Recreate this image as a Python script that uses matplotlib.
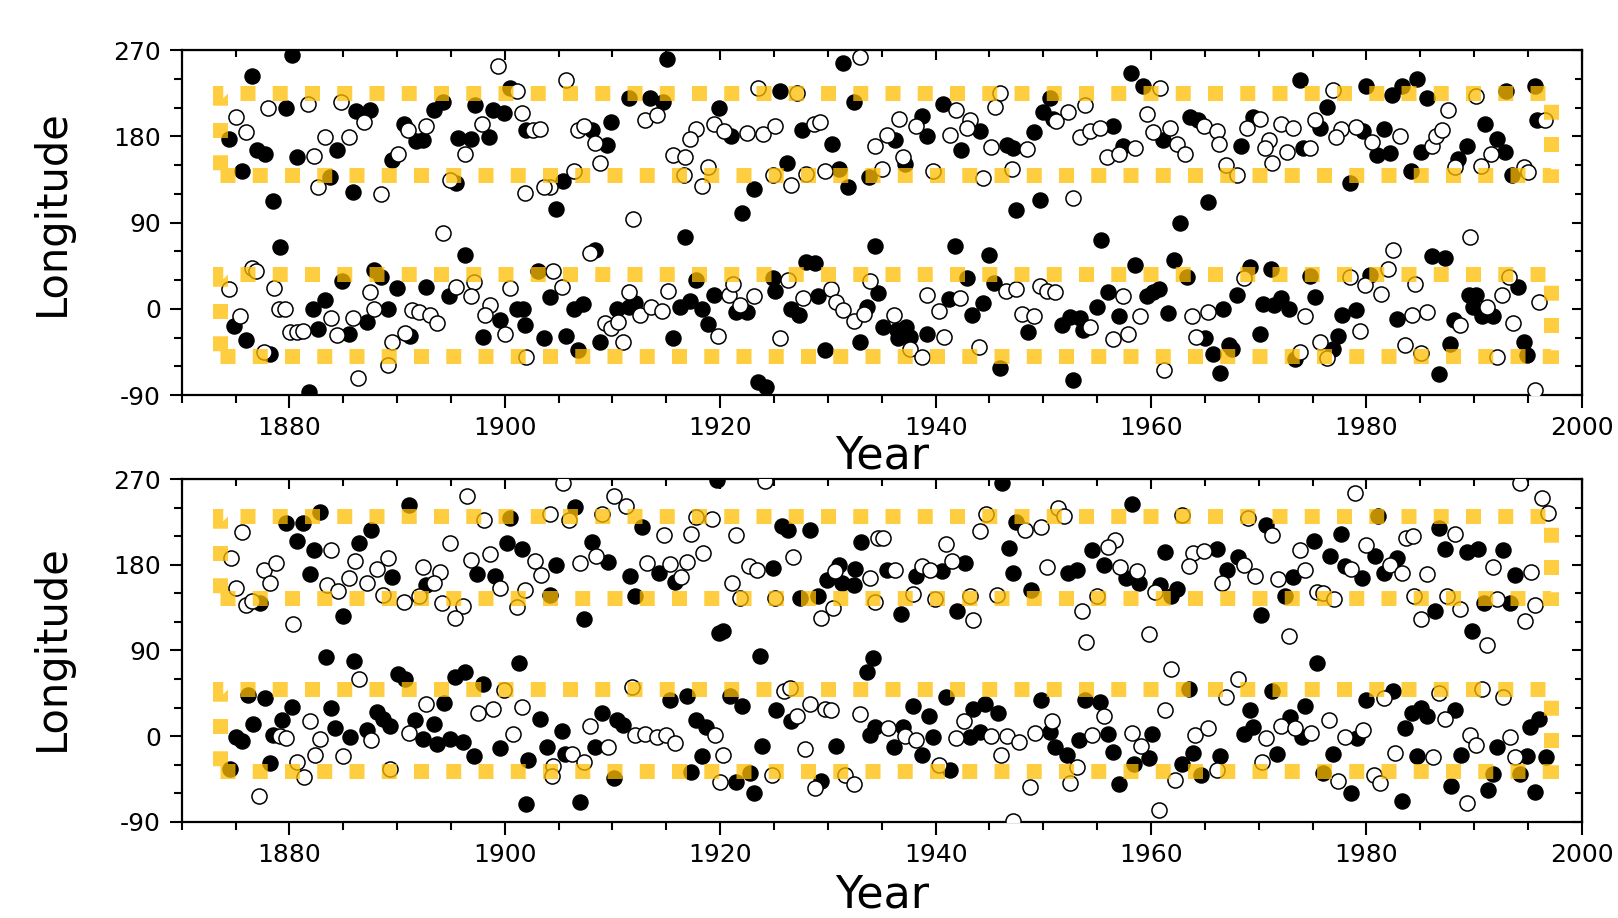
import matplotlib.pyplot as plt
from matplotlib.patches import Rectangle
from matplotlib.ticker import MultipleLocator

plt.rcParams['axes.unicode_minus'] = False

# ---- top panel data (year, longitude) ----
top_filled_year = [1880.2, 1876.5, 1874.4, 1877.0, 1877.7, 1875.6, 1878.5, 1879.7, 1884.4, 1880.7, 1883.8, 1885.9,
                   1886.2, 1887.5, 1890.6, 1891.8, 1892.4, 1889.5, 1893.4, 1894.3, 1897.2, 1898.9, 1899.9, 1902.0,
                   1895.7, 1896.9, 1898.5, 1895.5, 1900.5,
                   1879.1, 1896.3, 1884.9, 1887.9, 1888.5, 1890.0, 1892.7, 1894.8, 1882.2, 1883.3, 1874.9, 1887.2,
                   1889.2, 1899.6, 1901.1, 1901.7, 1901.9, 1882.7, 1885.5, 1891.2, 1876.0, 1878.2, 1898.0, 1881.8,
                   1915.1, 1931.4, 1925.6, 1911.5, 1913.5, 1914.7, 1919.9, 1932.4, 1909.9, 1908.1, 1909.5, 1921.0,
                   1927.6, 1930.4, 1926.2, 1905.4, 1923.1, 1931.0, 1931.9, 1933.8, 1904.8, 1922.0, 1916.7, 1908.4,
                   1934.4, 1928.0, 1928.8,
                   1903.1, 1904.2, 1903.6, 1905.7, 1906.4, 1907.3, 1910.4, 1911.5, 1912.1, 1916.3, 1917.2, 1918.3,
                   1917.8, 1919.4, 1922.5, 1921.5, 1924.9, 1925.1, 1926.6, 1927.3, 1929.1, 1933.6, 1934.7, 1918.9,
                   1915.6, 1908.8, 1906.8, 1929.7, 1933.0, 1923.5, 1924.3,
                   1958.1, 1959.3, 1940.7, 1938.7, 1944.1, 1939.2, 1936.2, 1942.4, 1946.6, 1947.2, 1949.1, 1950.6,
                   1950.0, 1950.9, 1956.5, 1957.4, 1961.1, 1963.6, 1964.4, 1937.2, 1949.7, 1947.5, 1965.3, 1962.7,
                   1955.4, 1941.8, 1945.0,
                   1958.5, 1962.1, 1963.3, 1942.9, 1945.4, 1956.0, 1959.6, 1960.2, 1960.7, 1941.2, 1944.4, 1943.4,
                   1935.1, 1936.4, 1937.3, 1937.6, 1936.5, 1939.2, 1946.0, 1948.6, 1951.7, 1952.5, 1953.4, 1953.7,
                   1955.0, 1957.0, 1961.6, 1966.7, 1965.0, 1965.8, 1966.4, 1967.2, 1952.8,
                   1973.8, 1980.0, 1983.3, 1984.7, 1985.6, 1982.4, 1993.0, 1995.7, 1976.3, 1991.0, 1995.8, 1969.5,
                   1975.7, 1979.7, 1981.6, 1968.4, 1974.1, 1981.0, 1982.2, 1985.1, 1989.3, 1988.5, 1992.1, 1992.9,
                   1978.5, 1984.1, 1993.5,
                   1986.1, 1987.3, 1969.2, 1971.1, 1974.8, 1980.3, 1994.1, 1968.0, 1970.4, 1971.4, 1972.1, 1972.8,
                   1975.2, 1977.7, 1979.0, 1982.8, 1989.5, 1990.2, 1989.9, 1990.7, 1991.8, 1988.1, 1970.1, 1977.4,
                   1976.9, 1973.4, 1967.5, 1987.8, 1994.6, 1994.9, 1986.7]
top_filled_lon = [265, 243, 177, 166, 162, 144, 112, 210, 166, 158, 137, 122,
                  206, 207, 193, 175, 176, 155, 207, 216, 213, 207, 204, 187,
                  178, 177, 179, 131, 230,
                  64, 56, 29, 40, 33, 22, 23, 13, 0, 9, -18, -14,
                  0, -12, 0, 0, -17, -21, -26, -28, -33, -47, -29, -87,
                  261, 256, 227, 220, 220, 216, 209, 216, 195, 187, 171, 180,
                  187, 172, 152, 133, 125, 146, 127, 138, 104, 100, 75, 61,
                  65, 49, 48,
                  39, 12, -31, -28, 0, 5, 0, 2, 6, 2, 8, 0,
                  30, 14, -3, -3, 32, 19, 0, -7, 13, 2, 16, -16,
                  -31, -35, -43, -43, -35, -76, -82,
                  246, 232, 214, 201, 186, 180, 176, 166, 171, 168, 184, 220,
                  205, 198, 191, 170, 176, 200, 197, 151, 114, 103, 111, 90,
                  72, 65, 56,
                  46, 51, 33, 32, 27, 18, 13, 18, 21, 10, 6, -6,
                  -19, -22, -19, -29, -31, -26, -62, -24, -17, -9, -10, -22,
                  2, -8, -4, 0, -31, -47, -67, -38, -74,
                  239, 232, 232, 240, 220, 223, 227, 232, 211, 193, 197, 200,
                  189, 186, 188, 170, 168, 160, 163, 164, 170, 156, 177, 164,
                  131, 144, 140,
                  55, 53, 44, 41, 34, 35, 23, 14, 5, 4, 11, 0,
                  12, -7, -1, -11, 14, 14, 2, -8, -8, -12, -26, -28,
                  -42, -52, -42, -37, -35, -48, -68]

top_open_year = [1875.0, 1876.0, 1878.0, 1881.7, 1884.8, 1883.3, 1885.5, 1882.3, 1882.7, 1888.5, 1886.9, 1891.0,
                 1892.7, 1890.1, 1901.6, 1897.9, 1896.3, 1894.9, 1901.9, 1899.4, 1901.1,
                 1894.3, 1876.5, 1876.9, 1874.4, 1878.6, 1887.5, 1895.5, 1897.1, 1896.9, 1900.5, 1879.0, 1879.6,
                 1875.4, 1883.9, 1885.9, 1887.9, 1891.4, 1892.0, 1893.1, 1893.7, 1898.6, 1898.2, 1900.0, 1880.1,
                 1880.7, 1881.3, 1884.4, 1889.5, 1890.7, 1877.6, 1886.4, 1889.2, 1902.0,
                 1905.7, 1933.0, 1923.5, 1927.1, 1913.0, 1914.1, 1902.6, 1903.3, 1906.8, 1907.4, 1908.4, 1917.8,
                 1919.4, 1920.4, 1922.5, 1924.0, 1925.1, 1917.2, 1928.7, 1929.3, 1934.4, 1915.6, 1916.7, 1908.8,
                 1918.9, 1906.4, 1904.2, 1903.6, 1916.6, 1918.3, 1924.9, 1926.6, 1928.0, 1929.7, 1911.9, 1907.9,
                 1904.5, 1905.3, 1909.3, 1909.9, 1910.5, 1911.5, 1912.6, 1913.6, 1914.6, 1915.2, 1920.8, 1921.2,
                 1921.8, 1923.1, 1926.3, 1927.7, 1930.3, 1930.8, 1931.4, 1932.4, 1933.4, 1933.9, 1919.8, 1911.0,
                 1925.6,
                 1960.8, 1946.0, 1945.5, 1941.9, 1936.6, 1938.2, 1943.2, 1942.9, 1941.3, 1935.5, 1945.1, 1948.5,
                 1951.2, 1952.3, 1953.9, 1953.4, 1954.3, 1955.3, 1955.9, 1957.0, 1958.5, 1959.6, 1960.2, 1961.8,
                 1962.4, 1963.2, 1964.9, 1966.1, 1966.3, 1937.0, 1935.0, 1939.8, 1944.4, 1947.1, 1967.0, 1952.8,
                 1946.5, 1947.5, 1949.7, 1950.3, 1951.1, 1957.4, 1939.2, 1942.3, 1940.3, 1936.1, 1940.8, 1937.6,
                 1938.7, 1944.0, 1948.0, 1949.1, 1954.3, 1956.5, 1957.9, 1959.0, 1963.8, 1965.3, 1964.2, 1961.2,
                 1976.9, 1990.2, 1987.6, 1996.6, 1970.1, 1968.9, 1972.1, 1973.2, 1975.2, 1977.6, 1979.0, 1983.1,
                 1977.2, 1980.5, 1971.0, 1970.6, 1972.6, 1974.8, 1986.1, 1986.5, 1987.0, 1988.2, 1990.6, 1991.6,
                 1971.2, 1968.0, 1994.6, 1995.0,
                 1989.6, 1982.5, 1968.6, 1978.5, 1979.9, 1982.0, 1981.4, 1984.5, 1993.2, 1992.6, 1996.0, 1974.3,
                 1979.4, 1984.2, 1985.6, 1991.2, 1988.7, 1993.6, 1975.7, 1976.3, 1973.8, 1983.6, 1985.1, 1992.1,
                 1995.7]
top_open_lon = [200, 184, 209, 214, 216, 179, 179, 159, 127, 120, 195, 187,
                191, 162, 204, 193, 162, 134, 121, 253, 227,
                79, 43, 39, 21, 22, 18, 23, 28, 13, 22, 0, 0,
                -8, -10, -10, 0, -1, -3, -7, -15, 4, -7, -26, -24,
                -24, -23, -27, -35, -25, -45, -72, -59, -50,
                239, 263, 230, 225, 197, 202, 187, 188, 187, 191, 173, 188,
                193, 185, 183, 182, 191, 177, 193, 195, 170, 160, 158, 152,
                148, 144, 127, 127, 140, 128, 140, 129, 141, 144, 94, 58,
                39, 23, -15, -20, -14, 18, -6, 2, -2, 19, 14, 26,
                4, 13, 30, 11, 21, 7, -1, -13, -5, 29, -28, -35,
                -31,
                230, 225, 211, 207, 198, 191, 197, 189, 181, 181, 169, 167,
                196, 205, 213, 179, 186, 189, 158, 161, 168, 203, 184, 189,
                172, 161, 191, 186, 172, 158, 146, 144, 136, 146, 150, 116,
                19, 21, 24, 19, 17, 13, 14, 11, -2, -7, -29, -42,
                -50, -40, -5, -8, -19, -32, -26, -8, -8, -3, -29, -64,
                228, 222, 207, 197, 198, 189, 193, 189, 197, 188, 190, 180,
                179, 174, 176, 168, 164, 168, 170, 180, 187, 148, 149, 162,
                152, 140, 148, 143,
                75, 61, 32, 33, 25, 41, 15, 26, 33, 14, 7, -8,
                -23, -7, -3, 2, -17, -15, -35, -51, -45, -38, -46, -50,
                -85]

# ---- bottom panel data (year, longitude) ----
bot_filled_year = [1891.1, 1882.8, 1879.7, 1881.3, 1900.5, 1887.6, 1880.7, 1886.5, 1882.3, 1900.2, 1901.6, 1881.9,
                   1889.5, 1892.7, 1897.4, 1899.1, 1877.3, 1885.0,
                   1883.4, 1886.0, 1890.1, 1890.7, 1895.4, 1896.3, 1898.0, 1901.3, 1876.2, 1877.7, 1880.2, 1883.9,
                   1894.4, 1888.1, 1888.7, 1889.3, 1876.6, 1879.3, 1884.2, 1887.2, 1891.7, 1893.4, 1875.0, 1875.6,
                   1878.5, 1885.6, 1892.4, 1893.7, 1894.9, 1896.1, 1899.6, 1897.1, 1878.2, 1874.5, 1902.0, 1902.2,
                   1919.7, 1906.5, 1912.7, 1925.7, 1926.3, 1928.3, 1933.1, 1908.1, 1904.8, 1909.6, 1911.6, 1914.3,
                   1915.8, 1924.9, 1931.0, 1932.5, 1929.9, 1931.3, 1932.4, 1904.2, 1912.1, 1927.4, 1929.1, 1907.4,
                   1920.3, 1919.9, 1923.7, 1934.2, 1933.6,
                   1915.3, 1916.9, 1920.9, 1922.0, 1903.3, 1905.3, 1909.0, 1910.4, 1911.0, 1917.8, 1918.7, 1925.2,
                   1926.6, 1934.4, 1933.9, 1903.9, 1905.6, 1908.4, 1910.1, 1918.3, 1917.3, 1921.5, 1922.8, 1923.1,
                   1923.9, 1930.8, 1929.4, 1907.0,
                   1946.2, 1958.2, 1947.5, 1946.8, 1954.5, 1961.3, 1966.1, 1967.1, 1935.5, 1938.2, 1940.6, 1942.7,
                   1947.2, 1952.3, 1953.1, 1955.6, 1957.7, 1958.9, 1960.8, 1961.9, 1962.4, 1936.8, 1948.9, 1942.0,
                   1963.5, 1941.0, 1949.8, 1953.9, 1955.3, 1937.9, 1939.4, 1943.5, 1944.6, 1945.8, 1944.1, 1943.2,
                   1950.6, 1951.1, 1952.2, 1953.3, 1956.0, 1956.5, 1960.1, 1958.4, 1959.8, 1957.0, 1962.9, 1963.9,
                   1964.6, 1966.4, 1937.0, 1936.1, 1938.7, 1939.8, 1941.3,
                   1981.1, 1970.7, 1986.7, 1977.6, 1975.1, 1987.3, 1989.3, 1990.4, 1992.7, 1968.1, 1976.6, 1980.8,
                   1982.8, 1978.0, 1981.6, 1979.6, 1973.2, 1993.8, 1972.4, 1990.9, 1993.3, 1986.4, 1970.2, 1989.8,
                   1975.4,
                   1971.2, 1974.3, 1980.0, 1982.5, 1969.2, 1972.9, 1974.0, 1969.5, 1968.6, 1979.1, 1984.2, 1985.1,
                   1985.6, 1988.2, 1983.6, 1992.1, 1995.2, 1996.0, 1971.7, 1976.9, 1984.7, 1988.8, 1994.9, 1996.7,
                   1976.0, 1991.8, 1994.3, 1978.6, 1983.3, 1987.9, 1991.3, 1995.7]
bot_filled_lon = [243, 236, 224, 224, 229, 217, 205, 203, 196, 203, 197, 170,
                  167, 159, 170, 168, 140, 126,
                  83, 79, 65, 60, 62, 67, 55, 77, 43, 40, 31, 30,
                  35, 25, 18, 11, 13, 17, 8, 6, 17, 13, -1, -5,
                  1, -1, -3, -8, -3, -6, -13, -21, -28, -35, -71, -25,
                  269, 241, 220, 221, 217, 217, 204, 204, 180, 183, 168, 171,
                  162, 177, 180, 176, 164, 161, 159, 148, 147, 145, 147, 123,
                  111, 108, 84, 82, 67,
                  38, 42, 42, 32, 18, 5, 24, 17, 12, 17, 10, 27,
                  16, 10, 1, -11, -19, -11, -44, -21, -38, -48, -39, -60,
                  -10, -10, -47, -69,
                  266, 244, 225, 198, 196, 194, 197, 175, 175, 168, 174, 182,
                  171, 171, 175, 180, 166, 161, 159, 147, 155, 128, 154, 131,
                  50, 41, 38, 38, 36, 32, 21, 29, 34, 24, 4, -1,
                  4, -11, -20, -4, 2, -17, 2, -29, -23, -50, -29, -18,
                  -41, -21, 10, -11, -20, -1, -36,
                  231, 222, 219, 212, 205, 197, 194, 197, 196, 188, 189, 189,
                  187, 179, 171, 166, 167, 169, 147, 140, 140, 131, 127, 111,
                  77,
                  47, 32, 38, 47, 27, 20, -1, 10, 2, -2, 24, 30,
                  21, 27, 9, -11, 10, 18, -19, -19, -21, -20, -21, -22,
                  -39, -40, -40, -60, -68, -52, -57, -59]

bot_open_year = [1896.5, 1875.6, 1898.1, 1883.9, 1894.9, 1874.6, 1877.6, 1878.8, 1878.2, 1886.1, 1888.1, 1889.2,
                 1892.4, 1894.0, 1885.5, 1887.2, 1883.5, 1884.5, 1893.4, 1896.9, 1898.6, 1899.6, 1901.9, 1875.0,
                 1876.0, 1876.5, 1888.7, 1890.6, 1892.0, 1894.2, 1896.1, 1895.4, 1901.1, 1880.3,
                 1886.5, 1899.9, 1901.6, 1892.7, 1897.5, 1898.9, 1881.9, 1879.1, 1879.7, 1882.8, 1887.6, 1891.1,
                 1900.8, 1880.7, 1882.4, 1885.0, 1881.4, 1889.3, 1877.2,
                 1905.4, 1924.2, 1910.1, 1911.3, 1904.2, 1906.0, 1909.0, 1917.8, 1919.2, 1914.8, 1917.3, 1921.5,
                 1934.7, 1902.8, 1903.4, 1907.0, 1908.5, 1913.2, 1915.3, 1916.9, 1918.4, 1922.7, 1923.4, 1926.8,
                 1921.1, 1930.7, 1933.9, 1916.4, 1921.8, 1925.1, 1930.5, 1929.4, 1934.4,
                 1911.8, 1925.9, 1926.5, 1907.9, 1912.1, 1913.0, 1914.1, 1915.0, 1915.8, 1919.5, 1927.1, 1928.3,
                 1929.7, 1930.3, 1933.0, 1906.2, 1907.4, 1909.6, 1904.5, 1904.4, 1920.3, 1920.0, 1924.8, 1927.9,
                 1928.8, 1931.6, 1932.4,
                 1951.4, 1944.7, 1948.3, 1949.8, 1951.9, 1962.9, 1935.1, 1941.0, 1944.1, 1956.7, 1956.0, 1963.9,
                 1964.9, 1963.5, 1966.6, 1936.2, 1938.7, 1939.5, 1941.5, 1950.3, 1957.1, 1958.7, 1960.4, 1937.9,
                 1939.9, 1943.2, 1945.7, 1943.5, 1953.6, 1955.0, 1954.0, 1959.8, 1961.9,
                 1967.0, 1955.6, 1961.3, 1942.6, 1941.9, 1945.1, 1946.6, 1947.7, 1949.2, 1950.8, 1954.5, 1958.2,
                 1959.1, 1953.1, 1952.5, 1948.8, 1962.2, 1966.1, 1964.1, 1965.3, 1935.6, 1937.2, 1938.2, 1940.3,
                 1946.1, 1960.7, 1947.2,
                 1978.9, 1994.3, 1996.3, 1996.9, 1969.0, 1971.2, 1988.2, 1983.7, 1984.3, 1980.0, 1973.8, 1968.6,
                 1982.2, 1978.6, 1983.3, 1969.7, 1971.8, 1974.3, 1985.6, 1991.8, 1995.3, 1975.4, 1976.0, 1977.0,
                 1984.4, 1987.5, 1992.1, 1995.7, 1985.1, 1988.7, 1994.7, 1972.8, 1991.2,
                 1968.1, 1981.6, 1986.7, 1990.7, 1992.7, 1972.1, 1973.4, 1974.9, 1970.7, 1976.5, 1978.0, 1979.7,
                 1987.3, 1989.6, 1990.2, 1993.3, 1970.3, 1982.7, 1986.2, 1993.8, 1977.4, 1980.7, 1981.3, 1989.3]
bot_open_lon = [252, 215, 227, 196, 203, 187, 175, 182, 161, 184, 176, 187,
                178, 173, 166, 161, 159, 153, 161, 185, 191, 156, 154, 156,
                138, 142, 148, 141, 147, 140, 137, 124, 136, 118,
                60, 48, 31, 34, 24, 28, 16, 0, -2, -3, -4, 3,
                2, -27, -20, -21, -43, -35, -63,
                266, 268, 252, 242, 234, 227, 234, 230, 228, 211, 212, 211,
                208, 184, 169, 182, 189, 182, 181, 183, 193, 179, 175, 188,
                161, 174, 166, 167, 145, 145, 135, 124, 141,
                52, 47, 51, 11, 1, 2, -1, 1, -7, 1, 21, 34,
                28, 27, 23, -19, -27, -11, -31, -42, -20, -48, -41, -14,
                -55, -41, -50,
                240, 234, 217, 220, 231, 232, 208, 202, 216, 206, 199, 192,
                195, 179, 161, 175, 179, 175, 184, 178, 178, 174, 152, 149,
                144, 147, 148, 122, 132, 147, 99, 107, 71,
                41, 21, 27, 16, -2, 0, 0, -6, 3, 16, 1, 3,
                -10, -33, -49, -54, -46, -36, 1, 8, 9, 0, -4, -30,
                -20, -78, -89,
                256, 266, 250, 235, 229, 211, 213, 208, 210, 201, 196, 180,
                180, 176, 172, 168, 165, 175, 170, 178, 173, 151, 150, 144,
                147, 147, 144, 138, 123, 134, 121, 105, 96,
                60, 40, 45, 50, 41, 11, 8, 3, -2, 17, -1, 6,
                18, 1, -9, -1, -27, -18, -22, -22, -47, -41, -49, -70]

# band limits (year range, lower/upper longitude) for each panel
band_years = (1873.6, 1997.1)
top_bands = [(140, 225), (-49, 36)]
bot_bands = [(145, 231), (-37, 49)]

fig = plt.figure(figsize=(16.18, 9.18), dpi=100)
ax_top = fig.add_axes([0.1123, 0.5697, 0.8653, 0.3758])
ax_bot = fig.add_axes([0.1123, 0.1049, 0.8653, 0.3730])

band_color = '#FFBE00'


def draw_panel(ax, fy, fl, oy, ol, bands, label_y, ylabel_y):
    ax.scatter(fy, fl, s=118, c='black', edgecolors='black', linewidths=1.0, zorder=2)
    ax.scatter(oy, ol, s=118, c='white', edgecolors='black', linewidths=1.1, zorder=3)
    for lo, hi in bands:
        ax.add_patch(Rectangle((band_years[0], lo), band_years[1] - band_years[0], hi - lo,
                               fill=False, edgecolor=band_color, alpha=0.75, linewidth=10.8,
                               linestyle=(0, (1, 1.15)), capstyle='butt', zorder=4))
    ax.set_xlim(1870, 2000)
    ax.set_ylim(-90, 270)
    ax.set_xticks(range(1880, 2001, 20))
    ax.set_yticks(range(-90, 271, 90))
    ax.xaxis.set_minor_locator(MultipleLocator(5))
    ax.yaxis.set_minor_locator(MultipleLocator(30))
    ax.tick_params(which='both', direction='out', labelsize=18, width=1.5, pad=6)
    ax.tick_params(which='major', length=9)
    ax.tick_params(which='minor', length=6)
    for sp in ax.spines.values():
        sp.set_linewidth(1.6)

    top = ax.secondary_xaxis('top')
    top.set_xticks(range(1880, 2001, 20))
    top.xaxis.set_minor_locator(MultipleLocator(5))
    top.tick_params(which='both', direction='in', labeltop=False, width=1.5)
    top.tick_params(which='major', length=7)
    top.tick_params(which='minor', length=5)
    right = ax.secondary_yaxis('right')
    right.set_yticks(range(-90, 271, 90))
    right.yaxis.set_minor_locator(MultipleLocator(30))
    right.tick_params(which='both', direction='in', labelright=False, width=1.5)
    right.tick_params(which='major', length=7)
    right.tick_params(which='minor', length=5)

    ax.set_xlabel('Year', fontsize=32)
    ax.set_ylabel('Longitude', fontsize=30)
    ax.xaxis.set_label_coords(0.5, label_y)
    ax.yaxis.set_label_coords(-0.078, ylabel_y)


draw_panel(ax_top, top_filled_year, top_filled_lon, top_open_year, top_open_lon, top_bands, -0.115, 0.53)
draw_panel(ax_bot, bot_filled_year, bot_filled_lon, bot_open_year, bot_open_lon, bot_bands, -0.15, 0.51)

fig.savefig('out.png', dpi=100)
